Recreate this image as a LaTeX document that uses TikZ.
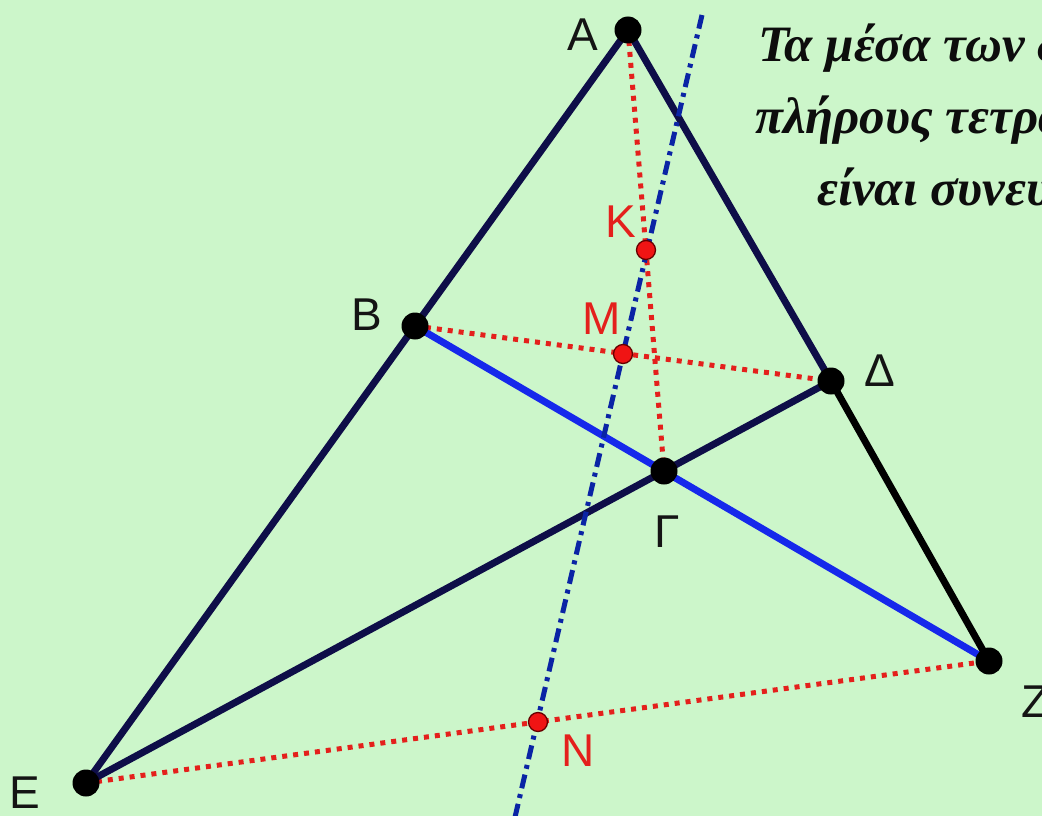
\documentclass[tikz,border=0pt]{standalone}
\usepackage{fontspec}
\setmainfont{Liberation Serif}
\setsansfont{Liberation Sans}
\definecolor{bggreen}{RGB}{204,246,202}
\definecolor{navy}{RGB}{14,14,72}
\definecolor{segblue}{RGB}{22,40,235}
\definecolor{dotred}{RGB}{228,32,28}
\definecolor{axisblue}{RGB}{10,36,165}
\definecolor{ptred}{RGB}{240,20,20}
\tikzset{
  solidseg/.style={line width=7pt, line cap=round},
  reddots/.style={dotred, line width=5pt, dash pattern=on 5pt off 6pt},
  dashdotline/.style={axisblue, line width=5pt, dash pattern=on 14pt off 6pt on 4pt off 6pt},
  bigpt/.style={circle, fill=black, inner sep=0pt, minimum size=27pt},
  redpt/.style={circle, fill=ptred, draw=black!60!red, line width=1.3pt, inner sep=0pt, minimum size=19pt},
  lbl/.style={font=\sffamily\fontsize{46}{46}\selectfont, text=black!92, inner sep=0pt},
  redlbl/.style={lbl, text=dotred},
  caption/.style={font=\fontsize{51}{51}\selectfont\bfseries\itshape, text=black!95, inner sep=0pt, anchor=base west}
}
\begin{document}
\begin{tikzpicture}[x=1pt, y={(0pt,-1pt)}]
\useasboundingbox (0,0) rectangle (1042,816);
\fill[bggreen] (0,0) rectangle (1042,816);
\clip (0,0) rectangle (1042,816);

% points
\coordinate (A) at (628,30);
\coordinate (B) at (415,326);
\coordinate (D) at (831,381);
\coordinate (G) at (664,471);
\coordinate (Z) at (989,661);
\coordinate (E) at (86,783);
\coordinate (K) at (646,250);
\coordinate (M) at (623,354);
\coordinate (N) at (538,722);
\coordinate (top) at (702,15);
\coordinate (bot) at (512,830);

% red dotted segments
\draw[reddots] (A) -- (G);
\draw[reddots] (B) -- (D);
\draw[reddots] (E) -- (Z);

% solid segments
\draw[solidseg, navy] (E) -- (B) -- (A) -- (D);
\draw[solidseg, navy] (E) -- (D);
\draw[solidseg, black] (D) -- (Z);
\draw[solidseg, segblue] (B) -- (Z);

% Gauss line
\draw[dashdotline] (top) -- (bot);

% dots
\foreach \p in {A,B,D,G,Z,E} \node[bigpt] (dot\p) at (\p) {};
\foreach \p in {K,M,N} \node[redpt] (dot\p) at (\p) {};

% labels
\node[lbl] (lA) at (583,35) {A};
\node[lbl] (lB) at (367,315) {B};
\node[lbl] (lD) at (880,371) {Δ};
\node[lbl] (lG) at (667,532) {Γ};
\node[lbl] (lZ) at (1036,702) {Z};
\node[lbl] (lE) at (25,793) {E};
\node[redlbl] (lK) at (621,222) {K};
\node[redlbl] (lM) at (602,319) {M};
\node[redlbl] (lN) at (578,751) {N};

% caption
\node[caption] (t1) at (758,62) {Τα μέσα των δ};
\node[caption] (t2) at (755,133) {πλήρους τετρα};
\node[caption] (t3) at (817,205) {είναι συνευ};
\end{tikzpicture}
\end{document}
